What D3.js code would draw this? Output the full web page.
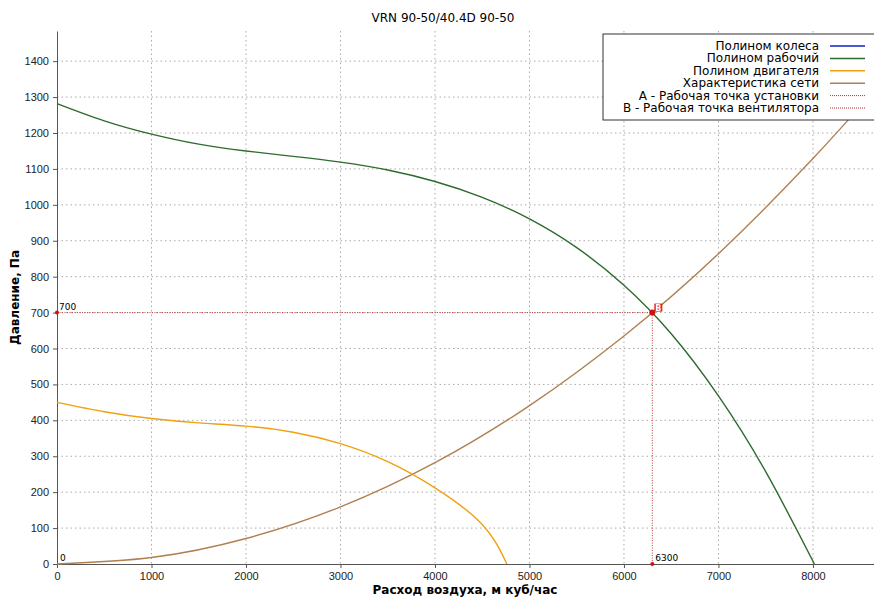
<!DOCTYPE html>
<html>
<head>
<meta charset="utf-8">
<script src="https://cdn.jsdelivr.net/npm/d3@7"></script>
<style>
  body { margin: 0; background: #fff; }
  svg { font-family: "DejaVu Sans", sans-serif; }
  .grid line { stroke: #aaa; stroke-dasharray: 1.5 3; }
  .axis path, .axis line { stroke: #555; }
  .axis text { font-size: 11px; fill: #222; }
</style>
</head>
<body>
<svg id="chart"></svg>
<script>
// data
const title = "VRN 90-50/40.4D 90-50";
const xTicks = [0, 1000, 2000, 3000, 4000, 5000, 6000, 7000, 8000];
const yTicks = [0, 100, 200, 300, 400, 500, 600, 700, 800, 900, 1000, 1100, 1200, 1300, 1400];

// wheel polynomial lies under the working one in the picture
const wheelFlow = [0, 500, 1000, 1500, 2000, 2500, 3000, 3500, 4000, 4500, 5000, 5500, 6000, 6500, 7000, 7500, 8015];
const wheelPress = [1282, 1234, 1197, 1169, 1150, 1135, 1119, 1097, 1065, 1021, 961, 881, 776, 641, 468, 257, 0];

const workFlow = wheelFlow;
const workPress = wheelPress;

const motorFlow = [0, 500, 1000, 1500, 2000, 2500, 3000, 3500, 4000, 4500, 4760];
const motorPress = [450, 424, 405, 393, 384, 367, 335, 285, 212, 110, 0];

const netFlow = [0, 1000, 2000, 3000, 4000, 5000, 6000, 7000, 8000, 8600];
const netPress = [0, 18, 71, 159, 282, 441, 635, 864, 1129, 1304];

const opFlow = 6300;
const opPress = 700;

const legendLabels = ["Полином колеса", "Полином рабочий", "Полином двигателя",
  "Характеристика сети", "A - Рабочая точка установки", "B - Рабочая точка вентилятора"];
const legendColors = ["#1020d0", "#2e6b2e", "#f0a010", "#b08050", "#b03030", "#b03030"];

const W = 874, H = 598;
const margin = {top: 31, right: 0, bottom: 34, left: 57};
const iw = W - margin.left - margin.right;
const ih = H - margin.top - margin.bottom;

const svg = d3.select("#chart").attr("width", W).attr("height", H);
const g = svg.append("g").attr("transform", `translate(${margin.left},${margin.top})`);

const x = d3.scaleLinear().domain([0, 8646]).range([0, iw]);
const y = d3.scaleLinear().domain([0, 1484]).range([ih, 0]);

// grid
g.append("g").attr("class", "grid")
  .selectAll("line").data(xTicks.slice(1)).join("line")
  .attr("x1", d => x(d)).attr("x2", d => x(d)).attr("y1", 0).attr("y2", ih);
g.append("g").attr("class", "grid")
  .selectAll("line").data(yTicks.slice(1)).join("line")
  .attr("y1", d => y(d)).attr("y2", d => y(d)).attr("x1", 0).attr("x2", iw);

// axes
g.append("g").attr("class", "axis")
  .attr("transform", `translate(0,${ih})`)
  .call(d3.axisBottom(x).tickValues(xTicks).tickSize(4).tickSizeOuter(0).tickPadding(4).tickFormat(d3.format("d")));
g.append("g").attr("class", "axis")
  .call(d3.axisLeft(y).tickValues(yTicks).tickSize(4).tickSizeOuter(0).tickPadding(4).tickFormat(d3.format("d")));

const line = d3.line().curve(d3.curveNatural);
function drawCurve(xs, ys, color) {
  g.append("path")
    .attr("d", line(xs.map((v, i) => [x(v), y(ys[i])])))
    .attr("fill", "none").attr("stroke", color).attr("stroke-width", 1.4);
}
drawCurve(workFlow, workPress, legendColors[1]);
drawCurve(netFlow, netPress, legendColors[3]);
drawCurve(motorFlow, motorPress, legendColors[2]);

// operating point guides
g.append("line").attr("x1", x(0)).attr("x2", x(opFlow)).attr("y1", y(opPress)).attr("y2", y(opPress))
  .attr("stroke", "#c03838").attr("stroke-dasharray", "1 1.5");
g.append("line").attr("x1", x(opFlow)).attr("x2", x(opFlow)).attr("y1", y(opPress)).attr("y2", y(0))
  .attr("stroke", "#c03838").attr("stroke-dasharray", "1 1.5");
[[0, opPress], [opFlow, 0], [opFlow, opPress]].forEach(p => {
  g.append("circle").attr("cx", x(p[0])).attr("cy", y(p[1])).attr("r", p[0] && p[1] ? 3 : 2).attr("fill", "#d01010");
});
g.append("text").attr("x", x(0) + 2).attr("y", y(opPress) - 3).attr("font-size", 9).text(opPress);
g.append("text").attr("x", x(opFlow) + 3).attr("y", y(0) - 3).attr("font-size", 9).text(opFlow);
g.append("text").attr("x", x(0) + 3).attr("y", y(0) - 3).attr("font-size", 9).text("0");

// B marker
g.append("rect").attr("x", x(opFlow) + 2).attr("y", y(opPress) - 9).attr("width", 8).attr("height", 8).attr("fill", "#e02020");
g.append("text").attr("x", x(opFlow) + 6).attr("y", y(opPress) - 2).attr("text-anchor", "middle")
  .attr("font-size", 8).attr("font-weight", "bold").attr("fill", "#fff").text("B");

// title and axis labels
svg.append("text").attr("x", 443).attr("y", 22).attr("text-anchor", "middle").attr("font-size", 12).text(title);
svg.append("text").attr("x", 465).attr("y", 594).attr("text-anchor", "middle")
  .attr("font-size", 12).attr("font-weight", "bold").text("Расход воздуха, м куб/час");
svg.append("text").attr("transform", `translate(19,${margin.top + ih / 2}) rotate(-90)`).attr("text-anchor", "middle")
  .attr("font-size", 12).attr("font-weight", "bold").text("Давление, Па");

// legend
const lg = svg.append("g").attr("transform", "translate(603,34)");
lg.append("rect").attr("width", 275).attr("height", 86).attr("fill", "#fff").attr("stroke", "#333");
legendLabels.forEach((lab, i) => {
  const yy = 12 + i * 12.4;
  lg.append("text").attr("x", 216).attr("y", yy + 4).attr("text-anchor", "end").attr("font-size", 12).text(lab);
  lg.append("line").attr("x1", 227).attr("x2", 262).attr("y1", yy).attr("y2", yy)
    .attr("stroke", legendColors[i]).attr("stroke-width", i < 4 ? 1.5 : 1)
    .attr("stroke-dasharray", i < 4 ? null : "1 1");
});
</script>
</body>
</html>
